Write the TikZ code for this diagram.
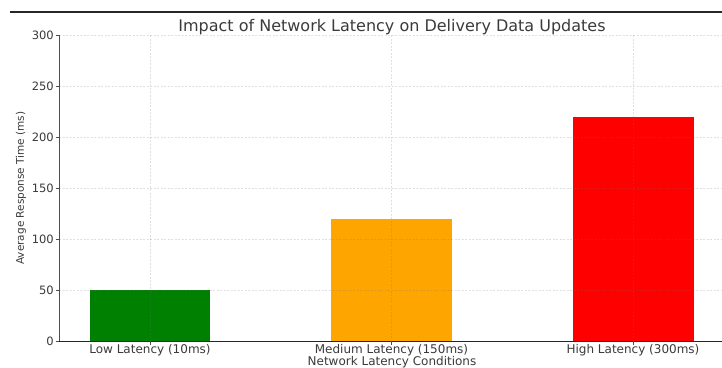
\documentclass[tikz,border=0pt]{standalone}
\usepackage{fontspec}
\setmainfont{DejaVu Sans}
\definecolor{txt}{HTML}{3A3A3A}
\definecolor{barlow}{HTML}{008000}
\definecolor{barmed}{HTML}{FFA500}
\definecolor{barhigh}{HTML}{FF0000}
\begin{document}
\begin{tikzpicture}[x=1bp,y=-1bp,
  lbl/.style={text=txt, inner sep=0pt, font=\fontsize{12bp}{14bp}\selectfont},
  ytick/.style={lbl, anchor=east, font=\fontsize{11.5bp}{13bp}\selectfont},
  gridline/.style={draw=black!55, draw opacity=0.22, line width=0.7bp, dash pattern=on 2.2bp off 1.3bp},
  spine/.style={draw=black!70, line width=1bp},
  tickmark/.style={draw=black!70, line width=0.8bp}]
\useasboundingbox (0,0) rectangle (722,367);

% rule above the chart
\draw[draw=black!85, line width=2bp] (10,12) -- (722,12);

% bars (value v sits at y = 341 - 1.02 v)
\fill[barlow]  (90,341)  rectangle (210,290);
\fill[barmed]  (331,341) rectangle (452,218.6);
\fill[barhigh] (573,341) rectangle (694,116.6);

% grid drawn over the bars
\foreach \v in {50,100,...,300}
  \draw[gridline] (59,{341-1.02*\v}) -- (722,{341-1.02*\v});
\foreach \cx in {150,391.5,633}
  \draw[gridline] (\cx,35) -- (\cx,341);

% axes
\draw[spine] (59,35) -- (59,341.5);
\draw[spine, draw=black!85] (58.5,341) -- (722,341);

% y ticks and labels
\foreach \v in {0,50,...,300} {
  \draw[tickmark] (55.5,{341-1.02*\v}) -- (59,{341-1.02*\v});
  \node[ytick] (yl\v) at (54,{341-1.02*\v}) {\v};
}

% x ticks and labels
\foreach \cx in {150,391.5,633}
  \draw[tickmark] (\cx,341) -- (\cx,344.5);
\node[lbl, anchor=base] (xlow)  at (150,353)   {Low Latency (10ms)};
\node[lbl, anchor=base] (xmed)  at (391.5,353) {Medium Latency (150ms)};
\node[lbl, anchor=base] (xhigh) at (633,353)   {High Latency (300ms)};

% axis titles and chart title
\node[lbl, anchor=base] (xtitle) at (392,365) {Network Latency Conditions};
\node[lbl, rotate=90, font=\fontsize{10.5bp}{12bp}\selectfont] (ytitle) at (21,188) {Average Response Time (ms)};
\node[lbl, anchor=base, font=\fontsize{16bp}{19bp}\selectfont] (title) at (392,31) {Impact of Network Latency on Delivery Data Updates};
\end{tikzpicture}
\end{document}
